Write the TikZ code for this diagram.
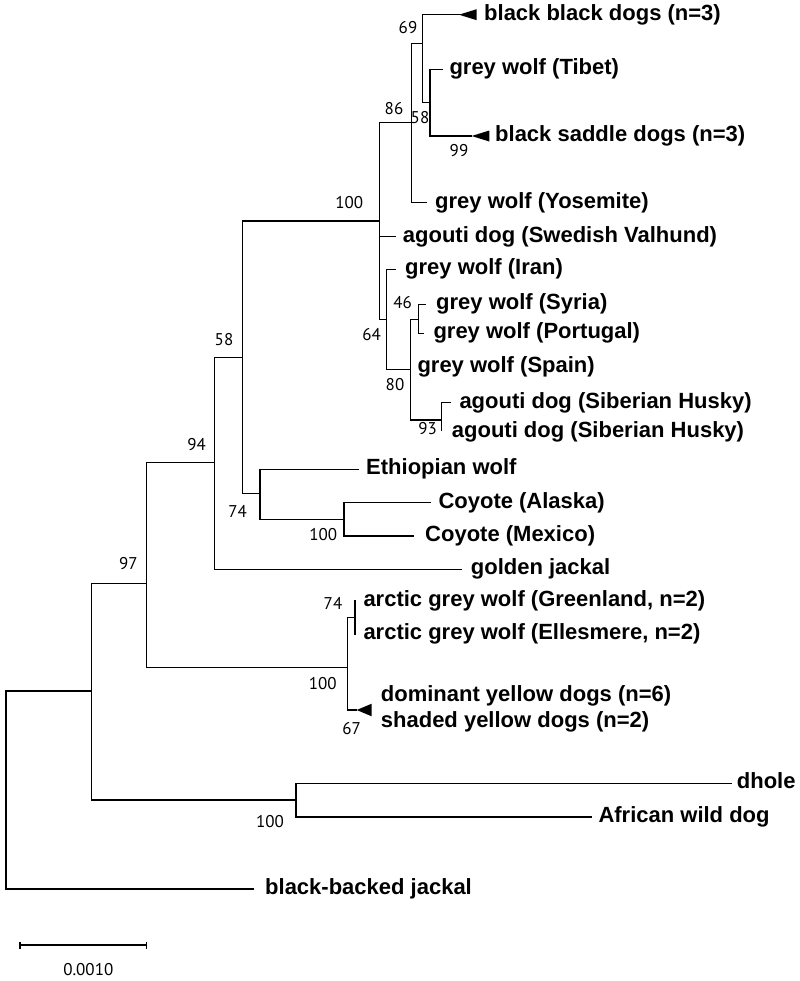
\documentclass[tikz,border=0pt]{standalone}
\usepackage{fontspec}
\setmainfont{Liberation Sans}
\newfontfamily\numfont{PT Sans}
\begin{document}
\begin{tikzpicture}[x=1bp,y=-1bp,
  br/.style={line width=1.1bp, black, line cap=rect},
  leaf/.style={anchor=base west, inner sep=0pt, font=\fontsize{22bp}{26bp}\selectfont\bfseries},
  bs/.style={anchor=center, inner sep=0pt, font=\numfont\fontsize{17bp}{19bp}\selectfont},
  tri/.style={fill=black, draw=none}]
\useasboundingbox (0,0) rectangle (800,981);
% internal nodes (x of node, y of incoming branch) and leaf ends
\coordinate (R) at (6,691);
\coordinate (A) at (91.7,691);
\coordinate (bbjE) at (253.3,889);
\coordinate (N97) at (146.7,583.3);
\coordinate (D) at (296,800);
\coordinate (dholeE) at (731.7,783.3);
\coordinate (awdE) at (591.7,817);
\coordinate (N94) at (214.3,462.7);
\coordinate (ARC) at (347.7,667.3);
\coordinate (ARC74) at (355,617.3);
\coordinate (grnE) at (355,601);
\coordinate (elsE) at (355,634);
\coordinate (yelT) at (356.7,710);
\coordinate (N58) at (242.7,357.7);
\coordinate (gjE) at (461,569.3);
\coordinate (N100) at (379.3,221);
\coordinate (N74) at (260,493.3);
\coordinate (ethE) at (358.3,469.3);
\coordinate (COY) at (344,519.3);
\coordinate (alaE) at (430,502.7);
\coordinate (mexE) at (413.3,536);
\coordinate (valE) at (395,236.7);
\coordinate (N86) at (411.7,122.7);
\coordinate (yosE) at (426.7,202.7);
\coordinate (N69) at (422.7,43.3);
\coordinate (bbdT) at (459,14.7);
\coordinate (N58b) at (430,102.7);
\coordinate (tibE) at (442,69.3);
\coordinate (bsdT) at (471.7,136);
\coordinate (N64) at (386.7,319.3);
\coordinate (iraE) at (395,269.3);
\coordinate (N80) at (410.7,369.3);
\coordinate (N46) at (418.3,319.3);
\coordinate (syrE) at (425,304.3);
\coordinate (porE) at (423,333.3);
\coordinate (spaE) at (410.7,366.7);
\coordinate (HUS) at (441.7,420);
\coordinate (hu1E) at (450,402.7);
\coordinate (hu2E) at (441.7,430);
% branches
\foreach \p/\c in {R/A, R/bbjE, A/N97, A/D, D/dholeE, D/awdE, N97/N94, N97/ARC,
  ARC/ARC74, ARC74/grnE, ARC74/elsE, ARC/yelT, N94/N58, N94/gjE, N58/N100, N58/N74,
  N74/ethE, N74/COY, COY/alaE, COY/mexE, N100/N86, N100/valE, N100/N64, N86/N69,
  N86/yosE, N69/bbdT, N69/N58b, N58b/tibE, N58b/bsdT, N64/iraE, N64/N80, N80/N46,
  N80/spaE, N80/HUS, N46/syrE, N46/porE, HUS/hu1E, HUS/hu2E}
  \draw[br] (\p) |- (\c);
% collapsed clades
\fill[tri] (bbdT) -- ++(17.7,-5.5) -- ++(0,11) -- cycle;
\fill[tri] (bsdT) -- ++(17.6,-5.5) -- ++(0,11) -- cycle;
\fill[tri] (yelT) -- ++(15,-6.3) -- ++(0,12.6) -- cycle;
% leaf labels
\node[leaf] (l1) at (484,20.2) {black black dogs (n=3)};
\node[leaf] (l2) at (449.3,74.8) {grey wolf (Tibet)};
\node[leaf] (l3) at (495,141.5) {black saddle dogs (n=3)};
\node[leaf] (l4) at (435,208.2) {grey wolf (Yosemite)};
\node[leaf] (l5) at (402.7,242.2) {agouti dog (Swedish Valhund)};
\node[leaf] (l6) at (405,274.8) {grey wolf (Iran)};
\node[leaf] (l7) at (436,309.8) {grey wolf (Syria)};
\node[leaf] (l8) at (433.3,338.8) {grey wolf (Portugal)};
\node[leaf] (l9) at (417.3,372.2) {grey wolf (Spain)};
\node[leaf] (l10) at (459.3,408.2) {agouti dog (Siberian Husky)};
\node[leaf] (l11) at (451.7,437) {agouti dog (Siberian Husky)};
\node[leaf] (l12) at (366,474.8) {Ethiopian wolf};
\node[leaf] (l13) at (438.3,508.2) {Coyote (Alaska)};
\node[leaf] (l14) at (425,541.5) {Coyote (Mexico)};
\node[leaf] (l15) at (470.7,574.8) {golden jackal};
\node[leaf] (l16) at (363.3,606.5) {arctic grey wolf (Greenland, n=2)};
\node[leaf] (l17) at (363.3,639.5) {arctic grey wolf (Ellesmere, n=2)};
\node[leaf] (l18) at (380.7,701.5) {dominant yellow dogs (n=6)};
\node[leaf] (l19) at (380.7,727) {shaded yellow dogs (n=2)};
\node[leaf] (l20) at (736.7,788.8) {dhole};
\node[leaf] (l21) at (598.3,822.5) {African wild dog};
\node[leaf] (l22) at (265,894.5) {black-backed jackal};
% bootstrap values
\node[bs] (b1) at (408,27.3) {69};
\node[bs] (b2) at (394,108.3) {86};
\node[bs] (b3) at (420,117.3) {58};
\node[bs] (b4) at (459,150.7) {99};
\node[bs] (b5) at (349.3,202.7) {100};
\node[bs] (b6) at (402.7,302.3) {46};
\node[bs] (b7) at (371.7,334.5) {64};
\node[bs] (b8) at (395,384.3) {80};
\node[bs] (b9) at (427.7,428.3) {93};
\node[bs] (b10) at (224,340) {58};
\node[bs] (b11) at (196.7,445) {94};
\node[bs] (b12) at (237.7,511) {74};
\node[bs] (b13) at (323.3,535) {100};
\node[bs] (b14) at (128.3,564) {97};
\node[bs] (b15) at (333,603) {74};
\node[bs] (b16) at (322.7,683.3) {100};
\node[bs] (b17) at (351.7,729) {67};
\node[bs] (b18) at (270,822) {100};
% scale bar
\coordinate (sbL) at (20,945);
\coordinate (sbR) at (146.7,945);
\draw[br, line cap=butt] (sbL) -- (sbR);
\draw[br, line cap=butt] ([yshift=-3.5bp]sbL) -- ([yshift=3.5bp]sbL);
\draw[br, line cap=butt] ([yshift=-3.5bp]sbR) -- ([yshift=3.5bp]sbR);
\node[bs] (sbT) at (88.3,970) {0.0010};
\end{tikzpicture}
\end{document}
